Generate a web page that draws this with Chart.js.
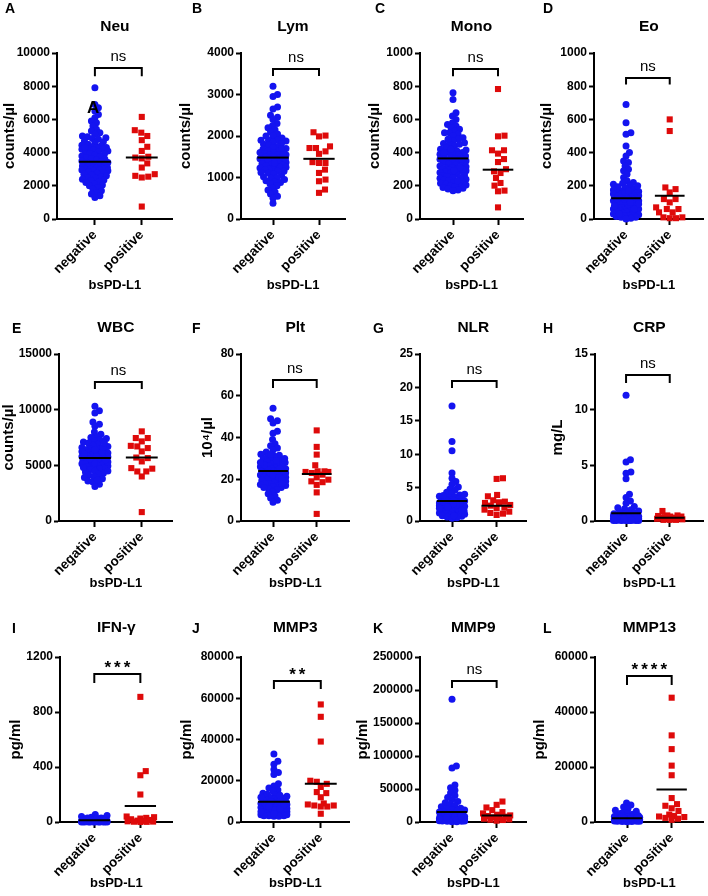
<!DOCTYPE html>
<html>
<head>
<meta charset="utf-8">
<script src="https://cdn.jsdelivr.net/npm/chart.js@4.4.1/dist/chart.umd.min.js"></script>
<style>
body { margin: 0; background: #fff; }
#wrap { position: relative; width: 708px; height: 896px; overflow: hidden; font-family: "Liberation Sans", Arial, sans-serif; }
#wrap canvas, .lbl { position: absolute; }
.lbl { font-weight: bold; font-size: 14px; line-height: 1; color: #000; }
</style>
</head>
<body>
<div id="wrap"></div>
<script>
// ---- data ----
var groups = ['negative', 'positive'];
var axisTitle = 'bsPD-L1';
var panelLetters = ['A', 'B', 'C', 'D', 'E', 'F', 'G', 'H', 'I', 'J', 'K', 'L'];
var panelTitles = ['Neu', 'Lym', 'Mono', 'Eo', 'WBC', 'Plt', 'NLR', 'CRP', 'IFN-\u03b3', 'MMP3', 'MMP9', 'MMP13'];
var yTitles = ['counts/\u00b5l', 'counts/\u00b5l', 'counts/\u00b5l', 'counts/\u00b5l', 'counts/\u00b5l', '10\u2074/\u00b5l', '', 'mg/L', 'pg/ml', 'pg/ml', 'pg/ml', 'pg/ml'];
var yMaxes = [10000, 4000, 1000, 1000, 15000, 80, 25, 15, 1200, 80000, 250000, 60000];
var ySteps = [2000, 1000, 200, 200, 5000, 20, 5, 5, 400, 20000, 50000, 20000];
var sigLabels = ['ns', 'ns', 'ns', 'ns', 'ns', 'ns', 'ns', 'ns', '***', '**', 'ns', '****'];
var meanNeg = [3450, 1480, 365, 125, 5650, 24, 3.0, 0.7, 12, 9800, 15000, 1400];
var meanPos = [3700, 1450, 297, 140, 5700, 22.5, 2.3, 0.3, 116, 18600, 10000, 11800];

var negNeu = [7900, 6900, 6700, 6500, 6300, 6100, 5900, 5800, 5600, 5400, 5300, 5200, 5100, 5000, 4950, 4900, 4850, 4800, 4700, 4650, 4600, 4500, 4450, 4400, 4350, 4300, 4300, 4250, 4200, 4200, 4150, 4100, 4050, 4000, 3950, 3900, 3850, 3800, 3750, 3700, 3650, 3600, 3550, 3500, 3450, 3400, 3400, 3350, 3300, 3250, 3200, 3200, 3150, 3100, 3100, 3050, 3050, 3000, 3000, 3000, 2950, 2950, 2900, 2900, 2850, 2800, 2750, 2700, 2650, 2600, 2550, 2500, 2450, 2400, 2350, 2300, 2250, 2200, 2100, 2050, 2000, 1900, 1800, 1700, 1600, 1500, 1400, 1300, 4300];
var posNeu = [6150, 5350, 5200, 5000, 4750, 4350, 4100, 3750, 3700, 3650, 3350, 3100, 2700, 2600, 2550, 2500, 750];
var negLym = [3200, 3000, 2950, 2700, 2650, 2500, 2450, 2400, 2300, 2250, 2200, 2150, 2100, 2050, 2000, 1950, 1900, 1900, 1880, 1850, 1820, 1800, 1780, 1750, 1720, 1700, 1680, 1650, 1630, 1600, 1600, 1580, 1560, 1550, 1540, 1520, 1500, 1500, 1480, 1460, 1450, 1440, 1420, 1400, 1400, 1380, 1360, 1350, 1330, 1300, 1300, 1280, 1260, 1250, 1230, 1200, 1200, 1180, 1150, 1120, 1100, 1080, 1050, 1020, 1000, 980, 950, 920, 900, 880, 850, 800, 750, 700, 650, 600, 550, 500, 380, 1550, 1500, 1450, 1600, 1700, 1350, 1250, 1150, 1900, 2000];
var posLym = [2090, 2010, 1990, 1750, 1710, 1710, 1630, 1570, 1370, 1350, 1350, 1190, 1110, 950, 910, 710, 630];
var negMono = [760, 720, 640, 620, 600, 580, 570, 560, 550, 540, 530, 520, 510, 500, 490, 480, 470, 460, 455, 450, 440, 430, 420, 415, 410, 400, 400, 395, 390, 385, 380, 375, 370, 365, 360, 355, 350, 345, 340, 335, 330, 325, 320, 315, 310, 305, 300, 300, 295, 290, 290, 285, 280, 275, 270, 265, 260, 255, 250, 245, 240, 235, 230, 225, 220, 215, 210, 205, 200, 200, 195, 190, 185, 180, 175, 170, 300, 310, 290, 400, 420, 350, 360, 250, 230, 480, 450, 520];
var posMono = [783, 502, 498, 414, 414, 394, 361, 343, 300, 287, 277, 247, 217, 201, 171, 167, 70];
var negEo = [690, 580, 520, 510, 440, 400, 380, 350, 340, 320, 300, 290, 270, 250, 230, 220, 215, 210, 200, 195, 190, 180, 175, 170, 165, 160, 160, 155, 150, 150, 145, 140, 140, 135, 130, 130, 125, 120, 120, 115, 110, 110, 105, 100, 100, 95, 90, 90, 85, 80, 80, 75, 70, 70, 65, 60, 60, 55, 50, 50, 45, 40, 40, 35, 30, 30, 25, 20, 20, 15, 10, 10, 5, 0, 120, 130, 100, 110, 140, 150, 160, 170, 90, 80, 60, 200, 30];
var posEo = [600, 530, 190, 180, 160, 120, 120, 100, 70, 60, 60, 40, 40, 10, 10, 5, 5];
var negWbc = [10300, 9900, 9700, 8900, 8700, 8500, 8000, 7800, 7600, 7500, 7400, 7300, 7200, 7100, 7000, 6900, 6800, 6700, 6600, 6500, 6450, 6400, 6350, 6300, 6250, 6200, 6150, 6100, 6050, 6000, 5950, 5900, 5850, 5800, 5750, 5700, 5650, 5600, 5550, 5500, 5450, 5400, 5350, 5300, 5250, 5200, 5150, 5100, 5050, 5000, 4950, 4900, 4850, 4800, 4700, 4600, 4500, 4400, 4300, 4200, 4100, 4000, 3900, 3800, 3600, 3500, 3300, 3100, 5400, 5300, 5500, 6000, 6200, 6400, 5200, 4800, 6600, 7000, 5800, 5600, 4500, 3700];
var posWbc = [8050, 7450, 7450, 7150, 6750, 6700, 6550, 6250, 5700, 5650, 5350, 4750, 4700, 4450, 4450, 4000, 800];
var negPlt = [54, 49, 48, 47, 43, 42, 39, 37, 36, 35, 34, 33, 32, 31.5, 31, 30.5, 30, 29.5, 29, 28.5, 28, 27.5, 27, 26.5, 26, 25.5, 25, 25, 24.5, 24, 24, 23.5, 23, 23, 22.5, 22, 22, 21.5, 21, 21, 20.5, 20, 20, 19.5, 19, 19, 18.5, 18, 18, 17.5, 17, 17, 16.5, 16, 15.5, 15, 14, 13, 12, 11, 10, 9, 25, 24, 23, 26, 27, 22, 21, 28, 30, 20, 18, 16, 24, 25, 29, 32];
var posPlt = [43.4, 35.5, 31.8, 26.7, 23.8, 23.8, 23.5, 23.5, 23, 22.2, 20.9, 19.8, 19, 18.6, 17.3, 13.7, 3.4];
var negNlr = [17.2, 11.9, 10.5, 7.2, 6.4, 5.9, 5.5, 5.1, 4.8, 4.6, 4.3, 4.1, 3.9, 3.7, 3.6, 3.5, 3.4, 3.3, 3.2, 3.1, 3.0, 3.0, 2.9, 2.8, 2.8, 2.7, 2.6, 2.6, 2.5, 2.5, 2.4, 2.4, 2.3, 2.3, 2.2, 2.2, 2.1, 2.1, 2.0, 2.0, 1.9, 1.9, 1.8, 1.8, 1.7, 1.7, 1.6, 1.6, 1.5, 1.5, 1.4, 1.4, 1.3, 1.2, 1.1, 1.0, 0.9, 0.8, 0.7, 0.6, 0.5, 0.4, 2.0, 2.2, 1.8, 2.5, 3.0, 1.5, 1.2, 2.8, 3.3, 1.0, 2.4, 2.6, 1.9, 2.1, 0.8, 3.8, 4.0, 1.6];
var posNlr = [6.4, 6.3, 3.9, 3.7, 3.1, 2.9, 2.8, 2.7, 2.4, 2.3, 2.0, 1.9, 1.7, 1.4, 1.2, 1.1, 0.9];
var negCrp = [11.3, 5.5, 5.3, 4.4, 4.3, 3.8, 2.4, 2.1, 1.8, 1.6, 1.3, 1.2, 1.1, 1.0, 0.9, 0.8, 0.7, 0.6, 0.6, 0.5, 0.5, 0.5, 0.4, 0.4, 0.4, 0.4, 0.3, 0.3, 0.3, 0.3, 0.3, 0.2, 0.2, 0.2, 0.2, 0.2, 0.2, 0.1, 0.1, 0.1, 0.1, 0.1, 0.1, 0.1, 0.1, 0.05, 0.05, 0.05, 0.05, 0.05, 0.05, 0.05, 0.05, 0.3, 0.2, 0.4, 0.5, 0.6, 0.1, 0.2, 0.3, 0.15, 0.25, 0.35, 0.45, 0.55, 0.65, 0.7, 0.2, 0.1, 0.3];
var posCrp = [0.9, 0.5, 0.5, 0.45, 0.4, 0.4, 0.35, 0.3, 0.3, 0.25, 0.2, 0.2, 0.2, 0.15, 0.1, 0.1, 0.1];
var negIfn = [55, 48, 40, 35, 30, 28, 25, 22, 20, 18, 16, 15, 14, 13, 12, 11, 10, 10, 9, 8, 8, 7, 7, 6, 6, 5, 5, 5, 4, 4, 4, 3, 3, 3, 3, 2, 2, 2, 2, 2, 1, 1, 1, 1, 1, 1, 0, 0, 0, 0, 0, 0, 12, 8, 6, 4, 3, 15, 20, 25, 5, 2, 1, 0, 9, 11, 30, 18, 7, 3];
var posIfn = [910, 370, 340, 200, 40, 35, 30, 25, 20, 15, 10, 8, 5, 3, 2, 1, 0];
var negMmp3 = [33000, 29500, 28000, 25500, 24000, 23000, 18500, 17500, 16500, 15500, 15000, 14000, 13500, 13000, 12500, 12000, 12000, 11500, 11000, 11000, 10500, 10500, 10000, 10000, 9500, 9500, 9000, 9000, 9000, 8500, 8500, 8500, 8000, 8000, 8000, 7500, 7500, 7500, 7000, 7000, 7000, 6500, 6500, 6500, 6000, 6000, 6000, 5500, 5500, 5500, 5000, 5000, 5000, 4500, 4500, 4500, 4000, 4000, 4000, 3500, 3500, 3500, 3000, 3000, 3000, 2800, 2800, 9000, 8000, 7000, 6000, 12000, 10000, 11000, 13000, 5000, 4000, 6500, 7500, 8500];
var posMmp3 = [57000, 51000, 39000, 20000, 19500, 18500, 17000, 14500, 14000, 12000, 9000, 8500, 8000, 8000, 7500, 7500, 4000];
var negMmp9 = [186000, 85000, 82000, 56000, 52000, 48000, 44000, 40000, 37000, 34000, 31000, 29000, 27000, 25000, 23000, 21000, 20000, 19000, 18000, 17000, 16000, 15000, 14000, 13000, 12000, 11500, 11000, 10500, 10000, 9500, 9000, 8500, 8000, 7500, 7000, 6500, 6000, 6000, 5500, 5500, 5000, 5000, 4500, 4500, 4000, 4000, 3500, 3500, 3000, 3000, 2500, 2500, 2000, 2000, 1500, 1500, 1000, 1000, 500, 500, 8000, 6000, 4000, 3000, 2000, 12000, 10000, 7000, 5000, 9000];
var posMmp9 = [31000, 26000, 22000, 18000, 15000, 13000, 11000, 10000, 9000, 8000, 7000, 6000, 5000, 4000, 3500, 3000, 2000];
var negMmp13 = [6900, 6200, 5500, 4800, 4300, 3900, 3500, 3200, 3000, 2800, 2600, 2400, 2300, 2200, 2100, 2000, 1900, 1800, 1700, 1600, 1500, 1500, 1400, 1400, 1300, 1300, 1200, 1200, 1100, 1100, 1000, 1000, 950, 900, 850, 800, 750, 700, 650, 600, 550, 500, 450, 400, 350, 300, 250, 200, 150, 100, 1200, 1000, 800, 600, 1500, 1800, 900, 700, 500, 1100, 1300, 400, 300, 2000, 1600, 1400];
var posMmp13 = [45200, 31500, 26500, 20500, 17000, 8700, 6500, 5900, 5000, 4000, 2700, 2200, 2000, 1800, 1500, 1200, 800];

var negValues = [negNeu, negLym, negMono, negEo, negWbc, negPlt, negNlr, negCrp, negIfn, negMmp3, negMmp9, negMmp13];
var posValues = [posNeu, posLym, posMono, posEo, posWbc, posPlt, posNlr, posCrp, posIfn, posMmp3, posMmp9, posMmp13];

// ---- layout (pixels) ----
var rows = [
  { top: 0, h: 297, titleY: 27, plotTop: 53, plotBottom: 219, xTitleY: 285, letterTop: 1 },
  { top: 297, h: 300, titleY: 328, plotTop: 354, plotBottom: 521, xTitleY: 583, letterTop: 321 },
  { top: 597, h: 299, titleY: 628, plotTop: 657, plotBottom: 822, xTitleY: 883, letterTop: 621 }
];
var colLeft = [0, 177, 354, 531];
// y axis x, negative centre, positive centre, x axis end, y title centre (rel), letter x
var panelX = [
  [57, 95, 142, 173, 10, 5], [241, 273, 319, 345, 8, 192], [420, 453, 498, 523, 21, 375], [594, 627, 672, 707, 16, 543],
  [59, 95, 142, 173, 8, 12], [241, 274, 319, 353, 31, 192], [420, 453, 499, 530, 0, 373], [595, 627, 672, 707, 27, 543],
  [60, 95, 142, 175, 16, 12], [241, 274, 321, 350, 10, 192], [420, 453, 499, 530, 8, 373], [595, 628, 674, 707, 7, 543]
];
var bracketFrac = [[0.91, 0.86], [0.904, 0.862], [0.904, 0.86], [0.85, 0.81], [0.832, 0.79], [0.844, 0.796],
  [0.838, 0.796], [0.874, 0.826], [0.897, 0.842], [0.855, 0.806], [0.855, 0.812], [0.885, 0.83]];

var FONT = '"Liberation Sans", Arial, sans-serif';
Chart.defaults.font.family = FONT;
Chart.defaults.color = '#000';

// spread points sideways so they do not pile up (beeswarm), in pixels then back to x units
function swarm(vals, centre, yMax, plotH, unit, gap, maxHalf) {
  var order = vals.map(function (v, i) { return i; }).sort(function (a, b) { return vals[a] - vals[b]; });
  var placed = [];
  var out = [];
  order.forEach(function (i) {
    var py = vals[i] / yMax * plotH;
    var best = 0, bestD = -1;
    for (var k = 0; k <= maxHalf * 4; k++) {
      var dx = (k % 2 ? 1 : -1) * Math.ceil(k / 2) * 0.5;
      var minD = Infinity;
      for (var j = 0; j < placed.length; j++) {
        var d = Math.hypot(placed[j][0] - dx, placed[j][1] - py);
        if (d < minD) minD = d;
      }
      if (minD >= gap) { best = dx; break; }
      if (minD > bestD) { bestD = minD; best = dx; }
    }
    placed.push([best, py]);
    out[i] = { x: centre + best / unit, y: vals[i] };
  });
  return out;
}

var sigPlugin = {
  id: 'sig',
  afterDatasetsDraw: function (chart, args, opts) {
    var ctx = chart.ctx;
    var x = chart.scales.x.getPixelForValue(1.5);
    var y = chart.scales.y.getPixelForValue(opts.y);
    ctx.save();
    ctx.fillStyle = '#000';
    ctx.textAlign = 'center';
    ctx.textBaseline = 'alphabetic';
    if (opts.text === 'ns') {
      ctx.font = '15px ' + FONT;
      ctx.fillText(opts.text, x, y - 7);
    } else {
      ctx.font = 'bold 17px ' + FONT;
      ctx.letterSpacing = '3px';
      ctx.fillText(opts.text, x + 1.5, y - 1);
    }
    ctx.restore();
  }
};

var wrap = document.getElementById('wrap');

function addLabel(text, x, y, size) {
  var d = document.createElement('div');
  d.className = 'lbl';
  d.textContent = text;
  d.style.left = x + 'px';
  d.style.top = y + 'px';
  if (size) d.style.fontSize = size + 'px';
  wrap.appendChild(d);
}

for (var p = 0; p < 12; p++) {
  (function (p) {
    var row = rows[Math.floor(p / 4)];
    var left = colLeft[p % 4];
    var px = panelX[p];
    var cw = 177;
    var unit = px[2] - px[1];
    var xmin = 1 - (px[1] - px[0]) / unit;
    var xmax = 2 + (px[3] - px[2]) / unit;
    var plotH = row.plotBottom - row.plotTop;
    var yMax = yMaxes[p];
    var yw = px[0] - left;
    var xh = row.top + row.h - row.plotBottom;

    var cv = document.createElement('canvas');
    cv.width = cw;
    cv.height = row.h;
    cv.style.left = left + 'px';
    cv.style.top = row.top + 'px';
    wrap.appendChild(cv);

    addLabel(panelLetters[p], px[5], row.letterTop);

    var bTop = yMax * bracketFrac[p][0];
    var bLeg = yMax * bracketFrac[p][1];
    var half = 0.34;
    var lineDs = function (pts) {
      return { data: pts, showLine: true, borderColor: '#000', borderWidth: 2, pointRadius: 0, fill: false };
    };

    new Chart(cv, {
      type: 'scatter',
      data: {
        datasets: [
          lineDs([{ x: 1 - half, y: meanNeg[p] }, { x: 1 + half, y: meanNeg[p] }]),
          lineDs([{ x: 2 - half, y: meanPos[p] }, { x: 2 + half, y: meanPos[p] }]),
          lineDs([{ x: 1, y: bLeg }, { x: 1, y: bTop }, { x: 2, y: bTop }, { x: 2, y: bLeg }]),
          {
            data: swarm(negValues[p], 1, yMax, plotH, unit, 4.8, 13),
            pointStyle: 'circle', pointRadius: 3.5, backgroundColor: '#1414f0', borderWidth: 0, clip: false
          },
          {
            data: swarm(posValues[p], 2, yMax, plotH, unit, 6.5, 14),
            pointStyle: 'rect', pointRadius: 4.3, backgroundColor: '#de0a0a', borderWidth: 0, clip: false
          }
        ]
      },
      options: {
        responsive: false,
        animation: false,
        events: [],
        layout: { padding: { left: 0, right: left + cw - px[3], top: 0, bottom: 0 } },
        plugins: {
          legend: { display: false },
          tooltip: { enabled: false },
          title: {
            display: true, text: panelTitles[p], fullSize: false, color: '#000',
            font: { size: 15.5, weight: 'bold' },
            padding: { top: row.titleY - row.top - 9.3, bottom: row.plotTop - row.titleY - 9.3 }
          },
          sig: { text: sigLabels[p], y: bTop }
        },
        scales: {
          x: {
            type: 'linear', min: xmin, max: xmax,
            afterBuildTicks: function (s) { s.ticks = [{ value: 1 }, { value: 2 }]; },
            afterFit: function (s) { s.height = xh; },
            ticks: {
              autoSkip: false, minRotation: 45, maxRotation: 45, padding: 2, color: '#000',
              font: { size: 13.5, weight: 'bold' },
              callback: function (v) { return groups[v - 1]; }
            },
            grid: { drawOnChartArea: false, drawTicks: true, tickLength: 6, tickWidth: 2, tickColor: '#000' },
            border: { color: '#000', width: 2 },
            title: {
              display: true, text: axisTitle, color: '#000', font: { size: 13, weight: 'bold' },
              padding: { top: 0, bottom: row.top + row.h - row.xTitleY - 7.8 }
            }
          },
          y: {
            min: 0, max: yMax,
            afterFit: function (s) { s.width = yw; },
            ticks: {
              stepSize: ySteps[p], padding: 2, color: '#000',
              font: { size: 12, weight: 'bold' },
              callback: function (v) { return String(v); }
            },
            grid: { drawOnChartArea: false, drawTicks: true, tickLength: 5, tickWidth: 2, tickColor: '#000' },
            border: { color: '#000', width: 2 },
            title: {
              display: yTitles[p] !== '', text: yTitles[p], color: '#000',
              font: { size: 15, weight: 'bold' },
              padding: { top: Math.max(px[4] - 9, 0), bottom: 0 }
            }
          }
        }
      },
      plugins: [sigPlugin]
    });
  })(p);
}

// stray glyph printed over the Neu panel in the source figure
addLabel('A', 87, 99, 17);
</script>
</body>
</html>
